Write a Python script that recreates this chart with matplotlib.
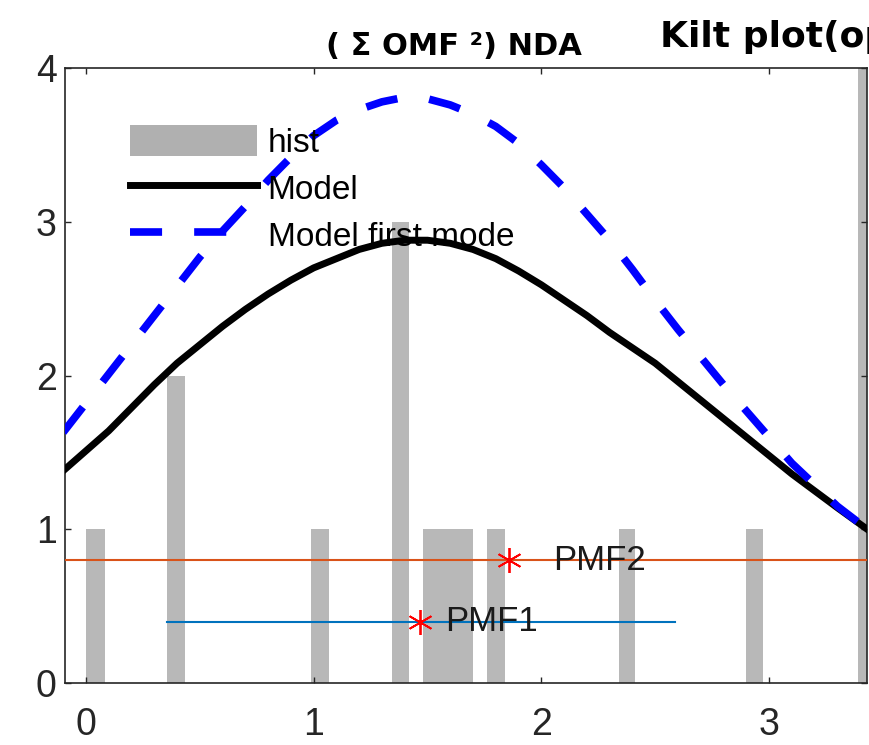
import numpy as np
import matplotlib
matplotlib.use('Agg')
import matplotlib.pyplot as plt
from matplotlib.patches import Patch
from matplotlib.lines import Line2D

plt.rcParams['font.family'] = ['Liberation Sans', 'DejaVu Sans']

# histogram bins (edges) and counts
bin_lo = [0.0, 0.356, 0.988, 1.344, 1.48, 1.761, 2.341, 2.899, 3.39]
bin_hi = [0.083, 0.435, 1.067, 1.419, 1.70, 1.84, 2.411, 2.973, 3.47]
counts = [1, 2, 1, 3, 1, 1, 1, 1, 5]

# model curves
xm = [-0.1, 0.0, 0.1, 0.2, 0.3, 0.4, 0.5, 0.6, 0.7, 0.8, 0.9, 1.0, 1.1, 1.2,
      1.3, 1.4, 1.5, 1.6, 1.7, 1.8, 1.9, 2.0, 2.1, 2.2, 2.3, 2.4, 2.5, 2.6,
      2.7, 2.8, 2.9, 3.0, 3.1, 3.2, 3.3, 3.45]
model = [1.38, 1.51, 1.64, 1.79, 1.94, 2.08, 2.20, 2.32, 2.43, 2.53, 2.62, 2.70,
         2.76, 2.82, 2.86, 2.88, 2.88, 2.86, 2.82, 2.76, 2.68, 2.59, 2.49, 2.39,
         2.28, 2.18, 2.08, 1.96, 1.84, 1.72, 1.60, 1.48, 1.36, 1.25, 1.14, 0.98]
model_first = [1.63, 1.82, 2.01, 2.20, 2.39, 2.58, 2.77, 2.94, 3.10, 3.27, 3.42, 3.56,
               3.66, 3.73, 3.78, 3.81, 3.80, 3.76, 3.70, 3.62, 3.51, 3.37, 3.22, 3.05,
               2.88, 2.69, 2.49, 2.30, 2.12, 1.94, 1.77, 1.60, 1.43, 1.29, 1.15, 0.98]

# PMF estimates
pmf1_x, pmf1_y = 1.467, 0.4
pmf1_lo, pmf1_hi = 0.356, 2.587
pmf2_x, pmf2_y = 1.858, 0.8

xticks = [0, 1, 2, 3]
yticks = [0, 1, 2, 3, 4]

fig = plt.figure(figsize=(8.7, 7.45), dpi=100)
ax = fig.add_axes([0.0747, 0.0832, 0.9218, 0.8255])

lo = np.array(bin_lo)
hi = np.array(bin_hi)
ax.bar(lo, counts, width=hi - lo, align='edge', color='#b8b8b8', linewidth=0, zorder=1)

ax.plot(xm, model, color='black', lw=5, solid_joinstyle='round', zorder=3)
ax.plot(xm, model_first, color='#0000ff', lw=5.5, dashes=(4.2, 4.2),
        dash_capstyle='butt', zorder=3)

ax.axhline(pmf2_y, color='#D95319', lw=1.5, zorder=4)
ax.plot([pmf1_lo, pmf1_hi], [pmf1_y, pmf1_y], color='#0072BD', lw=1.5, zorder=4)

ast = (6, 2, 0)
ax.plot([pmf1_x], [pmf1_y], marker=ast, ms=18, mew=1.3, color='red', ls='none', zorder=5)
ax.plot([pmf2_x], [pmf2_y], marker=ast, ms=18, mew=1.3, color='red', ls='none', zorder=5)
ax.annotate('PMF1', (pmf1_x, pmf1_y), xytext=(18, 0), textcoords='offset points',
            va='center', ha='left', fontsize=25, color='#1a1a1a', zorder=6)
ax.annotate('PMF2', (pmf2_x, pmf2_y), xytext=(32, 0), textcoords='offset points',
            va='center', ha='left', fontsize=25, color='#1a1a1a', zorder=6)

ax.set_xlim(-0.092, 3.43)
ax.set_ylim(0, 4)
ax.set_xticks(xticks)
ax.set_yticks(yticks)
ax.tick_params(direction='in', length=4, width=1, top=True, right=True,
               labelsize=27, colors='#262626')
ax.tick_params(axis='x', pad=17)
ax.tick_params(axis='y', pad=6)
for s in ax.spines.values():
    s.set_color('#262626')
    s.set_linewidth(1.2)

handles = [Patch(facecolor='#b0b0b0', edgecolor='none'),
           Line2D([], [], color='black', lw=5),
           Line2D([], [], color='#0000ff', lw=5.5, dashes=(4.2, 4.2), dash_capstyle='butt')]
ax.legend(handles, ['hist', 'Model', 'Model first mode'], loc='upper left',
          bbox_to_anchor=(0.081, 0.907), frameon=False, fontsize=24,
          handlelength=3.8, handleheight=1.05, handletextpad=0.33,
          labelspacing=0.39, borderpad=0, borderaxespad=0)

ax.text(0.485, 1.021, '( \u03a3 OMF \u00b2) NDA', transform=ax.transAxes, ha='center',
        va='baseline', fontsize=22, fontweight='bold', family='DejaVu Sans')
fig.text(660 / 870, 1 - 47 / 745, 'Kilt plot(optimal)', ha='left', va='baseline',
         fontsize=26, fontweight='bold', family='DejaVu Sans')

fig.savefig('out.png', dpi=100)
